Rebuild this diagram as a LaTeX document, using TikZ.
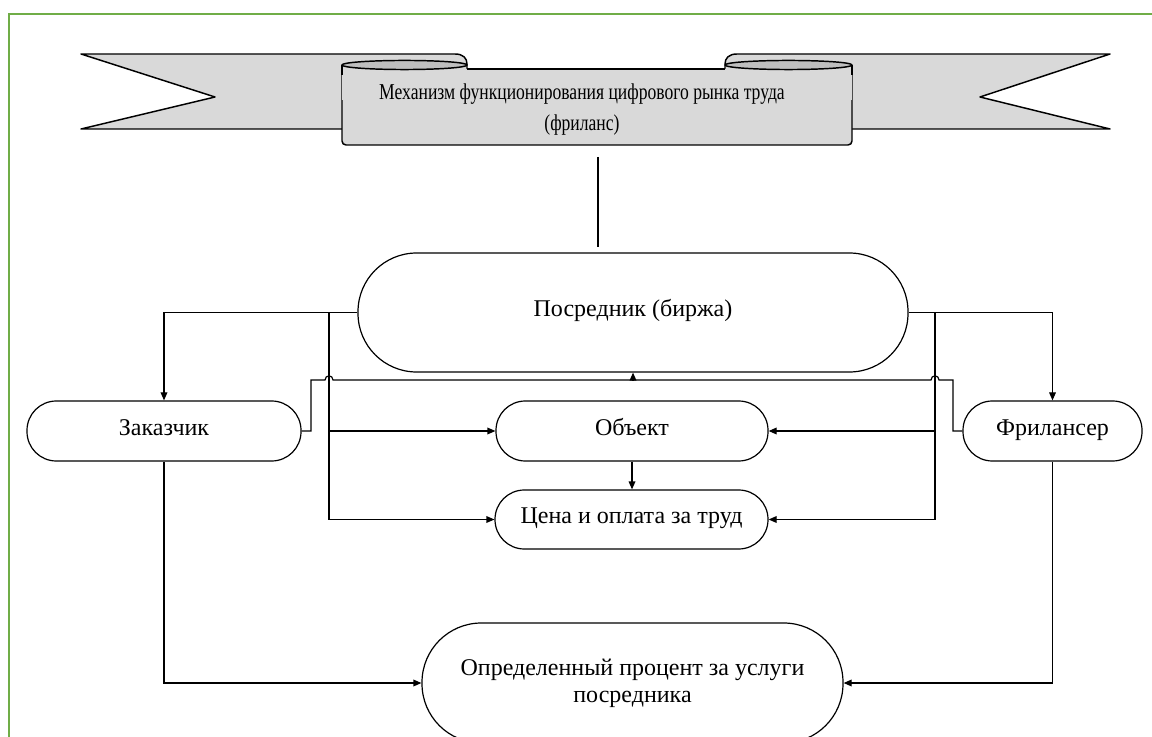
\documentclass[tikz,border=0pt]{standalone}
\usepackage{fontspec}
\setmainfont{Liberation Serif}
\newfontfamily\condfont[FakeStretch=0.776]{Liberation Serif}
\usetikzlibrary{arrows.meta}
\definecolor{framegreen}{HTML}{70AD47}
\definecolor{ribbon}{HTML}{D9D9D9}
\definecolor{ribbondark}{HTML}{BFBFBF}
\begin{document}
\begin{tikzpicture}[x=0.75pt,y=-0.75pt,
  line/.style={draw=black, line width=0.9pt},
  arr/.style={line, -{Triangle[length=6pt,width=5pt]}},
  stad/.style={draw=black, line width=0.9pt, rectangle, align=center, inner sep=0pt, fill=white,
    font=\fontsize{18}{21}\selectfont},
  oneline/.style={text height=0.8em, text depth=0.14em},
  ribbonline/.style={draw=black, line width=1.1pt, line join=round}]
\useasboundingbox (0,0) rectangle (1152,737);
\fill[white] (0,0) rectangle (1152,737);
\draw[framegreen, line width=1.9pt] (9,737) -- (9,14) -- (1152,14);

% banner
\draw[ribbonline, fill=ribbon] (81,54) -- (455,54) .. controls (463,54) and (467,58) .. (467,64) -- (467,129) -- (81,129) -- (215,97) -- cycle;
\draw[ribbonline, fill=ribbon] (1110,54) -- (737,54) .. controls (729,54) and (725,58) .. (725,64) -- (725,129) -- (1110,129) -- (980,97) -- cycle;
\draw[ribbonline, fill=ribbon, rounded corners=3pt] (342,69) -- (342,145) -- (852,145) -- (852,69);
\fill[ribbon] (342,69) rectangle (852,100);
\draw[ribbonline] (467,69) -- (725,69);
\draw[ribbonline, fill=ribbondark] (404.5,65) ellipse [x radius=46.9pt, y radius=3.4pt];
\draw[ribbonline, fill=ribbondark] (788.5,65) ellipse [x radius=47.6pt, y radius=3.4pt];
\draw[ribbonline] (342,65) -- (342,75);
\draw[ribbonline] (852,65) -- (852,75);
\node[font=\condfont\fontsize{17}{23.25}\selectfont, align=center, inner sep=0pt] (title) at (582,109.5)
  {Механизм функционирования цифрового рынка труда\\(фриланс)};
\coordinate (bannerb) at (598,145);

% nodes
\node[stad, oneline, minimum width=412.5pt, minimum height=89.25pt, rounded corners=44pt] (posr) at (633,312.5) {Посредник (биржа)};
\node[stad, oneline, minimum width=205.5pt, minimum height=45pt, rounded corners=22pt] (zak) at (164,431) {Заказчик};
\node[stad, oneline, minimum width=134.25pt, minimum height=45pt, rounded corners=22pt] (fril) at (1052.5,431) {Фрилансер};
\node[stad, oneline, minimum width=204pt, minimum height=45pt, rounded corners=22pt] (obj) at (632,431) {Объект};
\node[stad, oneline, minimum width=204.75pt, minimum height=44.25pt, rounded corners=22pt] (cena) at (631.5,519.5) {Цена и оплата за труд};
\node[stad, minimum width=315.75pt, minimum height=90pt, rounded corners=44.5pt,
  font=\fontsize{18}{20.25}\selectfont] (opr) at (632.5,683) {\raisebox{-2pt}{\parbox{300pt}{\centering Определенный процент за услуги\\посредника}}};

% connectors
\draw[line, shorten <=9pt, shorten >=3.75pt] (bannerb) -- (bannerb |- posr.north);
\draw[arr] (posr.west) -| (zak.north);
\draw[arr] (posr.east) -| (fril.north);
\coordinate (bl) at (329,312.5);
\coordinate (br) at (935,312.5);
\draw[arr] (bl) |- (obj.west);
\draw[arr] (bl) |- (cena.west);
\draw[arr] (br) |- (obj.east);
\draw[arr] (br) |- (cena.east);
\draw[arr] (obj.south) -- (obj.south |- cena.north);
\draw[arr] (zak.south) |- (opr.west);
\draw[arr] (fril.south) |- (opr.east);
\draw[line] (zak.east) -- (311,431) -- (311,380) -- (325,380)
  .. controls (325,374.5) and (333,374.5) .. (333,380) -- (931,380)
  .. controls (931,374.5) and (939,374.5) .. (939,380) -- (953,380) -- (953,431) -- (fril.west);
\coordinate (fb) at (633,380);
\draw[arr] (fb) -- (posr.south);
\end{tikzpicture}
\end{document}
